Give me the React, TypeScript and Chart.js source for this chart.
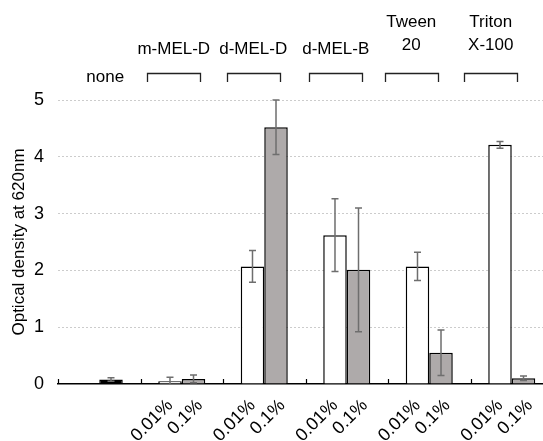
import React, { useEffect, useRef } from 'react';
import { Chart, registerables } from 'chart.js';

Chart.register(...registerables);

// ---- data ----
const groups = ['none', 'm-MEL-D', 'd-MEL-D', 'd-MEL-B', 'Tween\n20', 'Triton\nX-100'];
const hasBracket = [false, true, true, true, true, true];
const concentrations = ['0.01%', '0.1%'];
const od001: (number | null)[] = [null, 0.05, 2.07, 2.62, 2.07, 4.21];
const err001: (number | null)[] = [null, 0.07, 0.28, 0.64, 0.25, 0.06];
const od01: (number | null)[] = [0.08, 0.09, 4.52, 2.01, 0.55, 0.1];
const err01: (number | null)[] = [0.03, 0.07, 0.48, 1.09, 0.4, 0.04];
const yTicks = [0, 1, 2, 3, 4, 5];
const yTitle = 'Optical density at 620nm';

// ---- layout / style ----
const CAT_PCT = 0.57;
const labelNudge = [0, 0.075];
const headerShift = [6, -8, -11, -11, -18, -21];
const FONT = '"Liberation Sans", Arial, Helvetica, sans-serif';
const GRAY = '#aeaaaa';
const ERR_COLOR = '#6e6e6e';

const concTicks: { value: number; label: string }[] = [];
groups.forEach((_, i) => {
  if (!hasBracket[i]) return;
  concentrations.forEach((c, k) => {
    concTicks.push({ value: i + (k === 0 ? -1 : 1) * (CAT_PCT / 4) + labelNudge[k], label: c });
  });
});

const decorPlugin = {
  id: 'decor',
  afterDatasetsDraw(chart: any) {
    const ctx = chart.ctx;
    const y = chart.scales.y;
    const x2 = chart.scales.x2;
    const errs = [err001, err01];
    ctx.save();
    chart.data.datasets.forEach((ds: any, di: number) => {
      const meta = chart.getDatasetMeta(di);
      meta.data.forEach((bar: any, i: number) => {
        const v = ds.data[i];
        const e = errs[di][i];
        if (v == null || e == null) return;
        const yt = y.getPixelForValue(v + e);
        const yb = y.getPixelForValue(Math.max(v - e, 0));
        const cx = bar.x;
        ctx.strokeStyle = ERR_COLOR;
        ctx.lineWidth = 1.5;
        ctx.beginPath();
        ctx.moveTo(cx, yt);
        ctx.lineTo(cx, yb);
        ctx.moveTo(cx - 3.5, yt);
        ctx.lineTo(cx + 3.5, yt);
        if (v - e > 0) {
          ctx.moveTo(cx - 3.5, yb);
          ctx.lineTo(cx + 3.5, yb);
        }
        ctx.stroke();
      });
    });
    const y0 = y.getPixelForValue(0);
    ctx.strokeStyle = '#000';
    ctx.lineWidth = 1.2;
    ctx.beginPath();
    for (let i = 0; i <= groups.length; i++) {
      const px = Math.round(x2.getPixelForValue(i - 0.5)) + 0.5;
      ctx.moveTo(px, y0);
      ctx.lineTo(px, y0 - 5);
    }
    ctx.stroke();
    ctx.restore();
  },
  afterDraw(chart: any) {
    const ctx = chart.ctx;
    const x2 = chart.scales.x2;
    const top = chart.chartArea.top;
    ctx.save();
    ctx.font = '17px ' + FONT;
    ctx.fillStyle = '#000';
    ctx.textAlign = 'center';
    ctx.textBaseline = 'alphabetic';
    groups.forEach((g, i) => {
      const cx = x2.getPixelForValue(i) + headerShift[i];
      const lines = g.split('\n');
      if (!hasBracket[i]) {
        ctx.fillText(g, cx, top - 18.5);
        return;
      }
      const lastBase = lines.length > 1 ? top - 50 : top - 46;
      lines.forEach((ln, k) => {
        ctx.fillText(ln, cx, lastBase - (lines.length - 1 - k) * 22.7);
      });
      ctx.strokeStyle = '#222';
      ctx.lineWidth = 1.3;
      ctx.beginPath();
      const l = Math.round(cx - 26.5) + 0.5;
      const r = Math.round(cx + 26.5) + 0.5;
      const by = Math.round(top - 27) + 0.5;
      ctx.moveTo(l, top - 18);
      ctx.lineTo(l, by);
      ctx.lineTo(r, by);
      ctx.lineTo(r, top - 18);
      ctx.stroke();
    });
    ctx.restore();
  },
};

export default function App() {
  const ref = useRef<HTMLCanvasElement>(null);
  useEffect(() => {
    if (!ref.current) return;
    Chart.defaults.font.family = FONT;
    const chart = new Chart(ref.current, {
      type: 'bar',
      data: {
        labels: groups,
        datasets: [
          {
            label: concentrations[0],
            data: od001,
            backgroundColor: '#ffffff',
            borderColor: '#000',
            borderWidth: 1.5,
            categoryPercentage: CAT_PCT,
            barPercentage: 1,
          },
          {
            label: concentrations[1],
            data: od01,
            backgroundColor: od01.map((_, i) => (hasBracket[i] ? GRAY : '#000')),
            borderColor: '#000',
            borderWidth: 1.5,
            categoryPercentage: CAT_PCT,
            barPercentage: 1,
          },
        ],
      },
      options: {
        animation: false,
        responsive: false,
        maintainAspectRatio: false,
        layout: { padding: { top: 100, left: 5, right: 7, bottom: 0 } },
        plugins: { legend: { display: false }, tooltip: { enabled: false } },
        scales: {
          x: {
            type: 'category',
            ticks: { display: false },
            grid: { display: false },
            border: { display: true, color: '#000', width: 1.5 },
            afterFit: (ax: any) => {
              ax.height = 0;
            },
          },
          x2: {
            type: 'linear',
            position: 'bottom',
            offset: false,
            min: -0.5,
            max: 5.5,
            afterBuildTicks: (ax: any) => {
              ax.ticks = concTicks.map((t) => ({ value: t.value }));
            },
            afterFit: (ax: any) => {
              ax.height = 57;
            },
            ticks: {
              callback: (_v: any, i: number) => concTicks[i].label,
              autoSkip: false,
              minRotation: 45,
              maxRotation: 45,
              color: '#000',
              font: { size: 18 },
              padding: 3,
            },
            grid: { display: false, offset: false },
            border: { display: false },
          },
          y: {
            min: 0,
            max: 5,
            afterBuildTicks: (ax: any) => {
              ax.ticks = yTicks.map((v) => ({ value: v }));
            },
            afterFit: (ax: any) => {
              ax.width = 53;
            },
            ticks: { color: '#000', font: { size: 18 }, padding: 14 },
            grid: {
              color: (c: any) => (c.tick && c.tick.value === 0 ? 'rgba(0,0,0,0)' : '#cccccc'),
              drawTicks: false,
              lineWidth: 1,
            },
            border: { display: false, dash: [2, 2] },
            title: {
              display: true,
              text: yTitle,
              color: '#000',
              font: { size: 17 },
              padding: { top: 4, bottom: 4 },
            },
          },
        },
      },
      plugins: [decorPlugin],
    } as any);
    return () => chart.destroy();
  }, []);
  return (
    <div
      style={{
        position: 'fixed',
        left: 0,
        top: 0,
        width: 543,
        height: 441,
        overflow: 'hidden',
        background: '#fff',
      }}
    >
      <canvas ref={ref} width={560} height={441} style={{ display: 'block', width: 560, height: 441 }} />
    </div>
  );
}
